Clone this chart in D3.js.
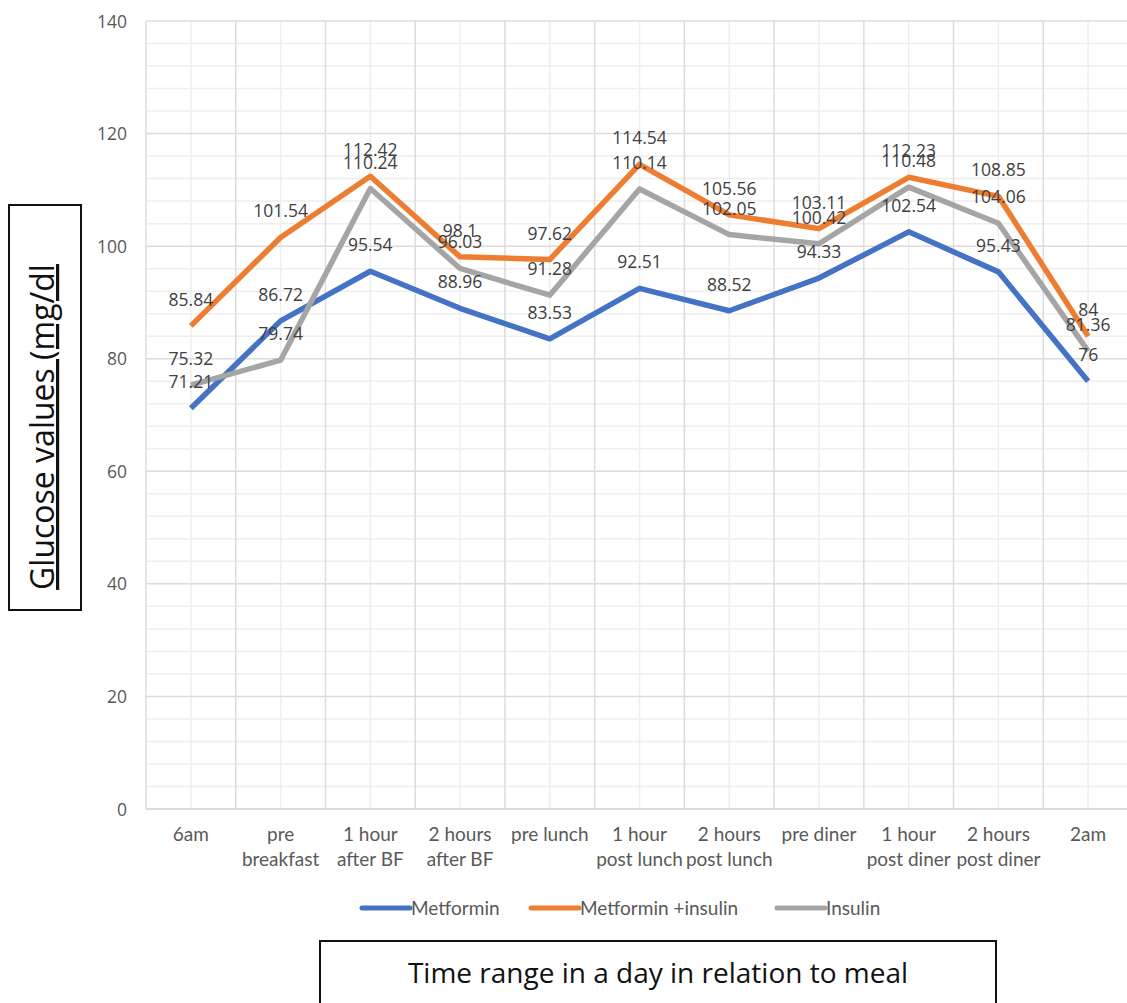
<!DOCTYPE html>
<html>
<head>
<meta charset="utf-8">
<script src="https://cdn.jsdelivr.net/npm/d3@7"></script>
<style>
  html, body { margin: 0; padding: 0; background: #fff; }
  svg { display: block; }
</style>
</head>
<body>
<svg id="chart" width="1127" height="1003"></svg>
<script>
const categories = ["6am", "pre\nbreakfast", "1 hour\nafter BF", "2 hours\nafter BF", "pre lunch",
  "1 hour\npost lunch", "2 hours\npost lunch", "pre diner", "1 hour\npost diner", "2 hours\npost diner", "2am"];
const metformin = [71.21, 86.72, 95.54, 88.96, 83.53, 92.51, 88.52, 94.33, 102.54, 95.43, 76];
const metforminInsulin = [85.84, 101.54, 112.42, 98.1, 97.62, 114.54, 105.56, 103.11, 112.23, 108.85, 84];
const insulin = [75.32, 79.74, 110.24, 96.03, 91.28, 110.14, 102.05, 100.42, 110.48, 104.06, 81.36];
const seriesNames = ["Metformin", "Metformin +insulin", "Insulin"];
const yTicks = [0, 20, 40, 60, 80, 100, 120, 140];
const yTitle = "Glucose values (mg/dl";
const xTitle = "Time range in a day in relation to meal";

const colors = ["#4472C4", "#ED7D31", "#A5A5A5"];
const series = [metformin, metforminInsulin, insulin];

const svg = d3.select("#chart");
const pLeft = 146, pRight = 1133, pTop = 21, pBottom = 809;

const x = d3.scaleBand().domain(categories).range([pLeft, pRight]).padding(0);
const xc = d => x(d) + x.bandwidth() / 2;
const y = d3.scaleLinear().domain([0, 140]).range([pBottom, pTop]);

// minor horizontal gridlines
const minorY = d3.range(0, 141, 4).filter(v => v % 20 !== 0);
svg.append("g").selectAll("line").data(minorY).join("line")
  .attr("x1", pLeft).attr("x2", pRight)
  .attr("y1", d => y(d)).attr("y2", d => y(d))
  .attr("stroke", "#eeeeee").attr("stroke-width", 1.5);
// minor vertical gridlines (category centers)
svg.append("g").selectAll("line").data(categories).join("line")
  .attr("x1", d => xc(d)).attr("x2", d => xc(d))
  .attr("y1", pTop).attr("y2", pBottom)
  .attr("stroke", "#eeeeee").attr("stroke-width", 1.5);
// major horizontal gridlines
svg.append("g").selectAll("line").data(yTicks).join("line")
  .attr("x1", pLeft).attr("x2", pRight)
  .attr("y1", d => y(d)).attr("y2", d => y(d))
  .attr("stroke", d => d === 0 ? "#d0d0d0" : "#dcdcdc").attr("stroke-width", 1.5);
// major vertical gridlines (category boundaries)
const bounds = categories.map(d => x(d)).concat([pRight]);
svg.append("g").selectAll("line").data(bounds).join("line")
  .attr("x1", d => d).attr("x2", d => d)
  .attr("y1", pTop).attr("y2", pBottom)
  .attr("stroke", "#dcdcdc").attr("stroke-width", 1.5);

// y axis labels
const yAxis = d3.axisLeft(y).tickValues(yTicks).tickSize(0).tickPadding(0);
const gy = svg.append("g").attr("transform", `translate(127,0)`).call(yAxis);
gy.select(".domain").remove();
gy.selectAll("text").attr("font-family", "'Open Sans', sans-serif").attr("font-size", 17.5)
  .attr("fill", "#595959").attr("dy", "0.35em");

// x axis labels
const xAxis = d3.axisBottom(x).tickSize(0).tickPadding(0);
const gx = svg.append("g").attr("transform", `translate(0,${pBottom})`).call(xAxis);
gx.select(".domain").remove();
gx.selectAll("text").each(function(d) {
  const t = d3.select(this);
  t.text(null).attr("y", 0).attr("dy", null)
    .attr("font-family", "Lato, sans-serif").attr("font-size", 19).attr("fill", "#595959");
  d.split("\n").forEach((line, i) => {
    t.append("tspan").attr("x", 0).attr("y", 32 + i * 25).text(line);
  });
});

// lines
const line = d3.line().x((d, i) => xc(categories[i])).y(d => y(d));
series.forEach((s, k) => {
  svg.append("path").datum(s)
    .attr("d", line)
    .attr("fill", "none")
    .attr("stroke", colors[k])
    .attr("stroke-width", 5.5)
    .attr("stroke-linejoin", "round");
});

// data labels
series.forEach((s, k) => {
  svg.append("g").selectAll("text").data(s).join("text")
    .attr("x", (d, i) => xc(categories[i]))
    .attr("y", d => y(d) - 20)
    .attr("text-anchor", "middle")
    .attr("font-family", "'Open Sans', sans-serif")
    .attr("font-size", 17.5)
    .attr("fill", "#404040")
    .text(d => d);
});

// legend
const legendX = [362, 531, 777];
seriesNames.forEach((n, k) => {
  const g = svg.append("g");
  g.append("line").attr("x1", legendX[k]).attr("x2", legendX[k] + 48)
    .attr("y1", 908).attr("y2", 908)
    .attr("stroke", colors[k]).attr("stroke-width", 5).attr("stroke-linecap", "round");
  g.append("text").attr("x", legendX[k] + 49).attr("y", 915)
    .attr("font-family", "Lato, sans-serif").attr("font-size", 19).attr("fill", "#595959")
    .text(n);
});

// y title box
svg.append("rect").attr("x", 9).attr("y", 205).attr("width", 72).attr("height", 405)
  .attr("fill", "none").attr("stroke", "#111").attr("stroke-width", 2);
svg.append("text")
  .attr("transform", "translate(54,427) rotate(-90)")
  .attr("text-anchor", "middle")
  .attr("font-family", "'Open Sans', sans-serif")
  .attr("font-size", 32)
  .attr("fill", "#111")
  .attr("text-decoration", "underline")
  .text(yTitle);

// x title box
svg.append("rect").attr("x", 320).attr("y", 941).attr("width", 676).attr("height", 80)
  .attr("fill", "none").attr("stroke", "#111").attr("stroke-width", 2);
svg.append("text")
  .attr("x", 658).attr("y", 983)
  .attr("text-anchor", "middle")
  .attr("font-family", "'Open Sans', sans-serif")
  .attr("font-size", 28)
  .attr("fill", "#111")
  .text(xTitle);
</script>
</body>
</html>
